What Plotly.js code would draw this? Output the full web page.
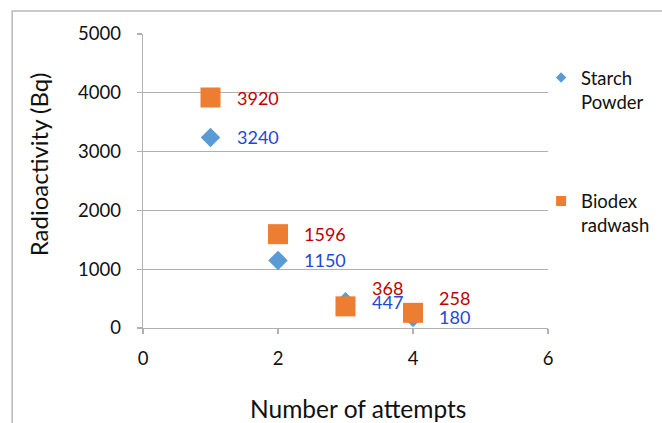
<!DOCTYPE html>
<html><head><meta charset="utf-8">
<script src="https://cdn.plot.ly/plotly-3.0.1.min.js"></script>
<style>html,body{margin:0;padding:0;background:#fff}</style>
</head><body><div id="chart" style="width:662px;height:423px"></div>
<script>
// ---- data ----
const attempts = [1, 2, 3, 4];
const starchPowder = [3240, 1150, 447, 180];
const biodexRadwash = [3920, 1596, 368, 258];
const seriesNames = ['Starch<br>Powder', 'Biodex<br>radwash'];
const xTickVals = [0, 2, 4, 6];
const yTickVals = [0, 1000, 2000, 3000, 4000, 5000];
const xTitle = 'Number of attempts';
const yTitle = 'Radioactivity (Bq)';

// ---- style ----
const FONT = 'Lato, "Open Sans", sans-serif';
const TXT = '#111';
const GRID = '#b0b0b0';
const BLUE = '#5b9bd5', ORANGE = '#ed7d31';
const LBL_BLUE = '#1f48d6', LBL_RED = '#c00000';

const traces = [
  {x: attempts, y: starchPowder, name: seriesNames[0], type: 'scatter', mode: 'markers',
   marker: {symbol: 'diamond', size: 15, color: BLUE}, showlegend: false},
  {x: attempts, y: biodexRadwash, name: seriesNames[1], type: 'scatter', mode: 'markers',
   marker: {symbol: 'square', size: 20, color: ORANGE}, showlegend: false},
  // legend entries (smaller legend symbols, as in the reference)
  {x: [null], y: [null], name: seriesNames[0], type: 'scatter', mode: 'markers',
   marker: {symbol: 'diamond', size: 8, color: BLUE}, legend: 'legend', showlegend: true},
  {x: [null], y: [null], name: seriesNames[1], type: 'scatter', mode: 'markers',
   marker: {symbol: 'square', size: 10, color: ORANGE}, legend: 'legend2', showlegend: true}
];

// label placement (vertical nudge in px) for each point
const starchNudge = [0, 0, 0, 0];
const biodexNudge = [0, 0, 18, 15];

const annotations = [];
function addLabels(xs, ys, color, nudge) {
  xs.forEach((x, i) => annotations.push({
    x: x, y: ys[i], xref: 'x', yref: 'y', text: String(ys[i]), showarrow: false,
    xanchor: 'left', yanchor: 'middle', xshift: 24, yshift: nudge[i],
    font: {family: FONT, size: 18, color: color}
  }));
}
addLabels(attempts, starchPowder, LBL_BLUE, starchNudge);
addLabels(attempts, biodexRadwash, LBL_RED, biodexNudge);
annotations.push({xref: 'paper', yref: 'paper', x: 0.532, y: -0.273, text: xTitle,
  showarrow: false, xanchor: 'center', yanchor: 'middle', font: {family: FONT, size: 24.5, color: TXT}});
annotations.push({xref: 'paper', yref: 'paper', x: -0.259, y: 0.557, text: yTitle, textangle: -90,
  showarrow: false, xanchor: 'center', yanchor: 'middle', font: {family: FONT, size: 24, color: TXT}});

const layout = {
  width: 662, height: 423,
  margin: {l: 143, r: 114, t: 34, b: 95, pad: 0, autoexpand: false},
  paper_bgcolor: '#fff', plot_bgcolor: '#fff',
  font: {family: FONT, size: 18, color: TXT},
  xaxis: {range: [0, 6], tickvals: xTickVals, showgrid: false, zeroline: false,
    showline: true, linecolor: GRID, linewidth: 1.3, ticks: 'outside', ticklen: 5, tickcolor: GRID,
    tickwidth: 1.3, ticklabelstandoff: 8, tickfont: {family: FONT, size: 18.5, color: TXT}},
  yaxis: {range: [0, 5000], tickvals: yTickVals, showgrid: true, gridcolor: GRID, gridwidth: 1.3,
    zeroline: false, showline: true, linecolor: GRID, linewidth: 1.3, ticks: 'outside', ticklen: 5,
    tickcolor: GRID, tickwidth: 1.3, ticklabelstandoff: 12, tickfont: {family: FONT, size: 18.5, color: TXT}},
  showlegend: true,
  legend: {x: 0.983, y: 0.915, xanchor: 'left', yanchor: 'top', valign: 'top',
    font: {family: FONT, size: 18.5, color: TXT}, bgcolor: 'rgba(0,0,0,0)', itemclick: false},
  legend2: {x: 0.983, y: 0.495, xanchor: 'left', yanchor: 'top', valign: 'top',
    font: {family: FONT, size: 18.5, color: TXT}, bgcolor: 'rgba(0,0,0,0)', itemclick: false},
  annotations: annotations,
  shapes: [{type: 'rect', xref: 'paper', yref: 'paper', x0: -0.323, x1: 1.5, y0: -1, y1: 1.078,
    line: {color: '#b8b8b8', width: 1.5}, fillcolor: 'rgba(0,0,0,0)', layer: 'below'}]
};

Plotly.newPlot('chart', traces, layout, {displayModeBar: false, staticPlot: true});
</script></body></html>
